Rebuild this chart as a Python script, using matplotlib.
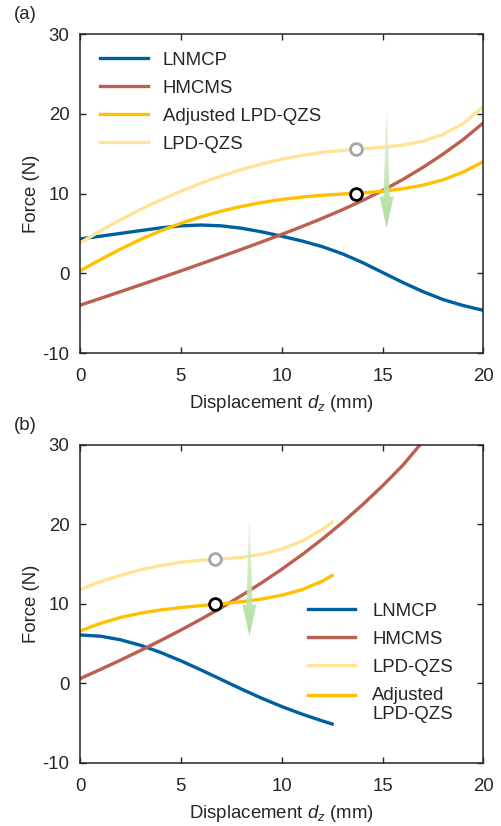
import numpy as np
import matplotlib
matplotlib.use('Agg')
import matplotlib.pyplot as plt
from matplotlib.colors import LinearSegmentedColormap
from matplotlib.patches import Polygon
from matplotlib.legend_handler import HandlerLine2D

plt.rcParams['font.family'] = ['Liberation Sans', 'DejaVu Sans']
plt.rcParams['mathtext.fontset'] = 'custom'
plt.rcParams['mathtext.rm'] = 'Liberation Sans'
plt.rcParams['mathtext.it'] = 'Liberation Sans:italic'
plt.rcParams['axes.unicode_minus'] = False
plt.rcParams['text.color'] = '#262626'
plt.rcParams['axes.labelcolor'] = '#262626'
plt.rcParams['xtick.color'] = '#262626'
plt.rcParams['ytick.color'] = '#262626'
plt.rcParams['lines.solid_joinstyle'] = 'round'

# ---- (a) full stroke, 0-20 mm ----
dz_a = np.arange(0, 21)
lnmcp_a = [4.3, 4.65, 5.0, 5.35, 5.7, 5.95, 6.05, 5.95, 5.65, 5.2, 4.65,
           4.05, 3.35, 2.45, 1.35, 0.1, -1.15, -2.3, -3.3, -4.05, -4.65]
hmcms_a = [-4.0, -3.16, -2.31, -1.45, -0.58, 0.30, 1.19, 2.09, 3.00, 3.93,
           4.88, 5.86, 6.88, 7.96, 9.12, 10.38, 11.76, 13.28, 14.95, 16.78,
           18.88]
adj_a = [0.3, 1.7, 3.02, 4.24, 5.32, 6.27, 7.09, 7.79, 8.38, 8.87, 9.26,
         9.56, 9.78, 9.94, 10.08, 10.28, 10.6, 11.05, 11.72, 12.7, 14.0]
lpd_a = [3.8, 5.3, 6.7, 8.0, 9.2, 10.3, 11.3, 12.2, 13.0, 13.7, 14.3,
         14.8, 15.15, 15.4, 15.6, 15.8, 16.07, 16.57, 17.42, 18.77, 20.9]
eq_dz_a = 13.7
eq_lpd_a, eq_adj_a = 15.6, 10.0
arrow_a = (15.2, 20.1, 5.7)   # x, top, tip

# ---- (b) shortened stroke, 0-12.5 mm ----
dz_b = [0, 1, 2, 3, 4, 5, 6, 7, 8, 9, 10, 11, 12, 12.5]
lnmcp_b = [6.1, 5.95, 5.5, 4.8, 3.9, 2.85, 1.7, 0.5, -0.7, -1.85, -2.9,
           -3.85, -4.7, -5.1]
adj_b = [6.6, 7.55, 8.3, 8.85, 9.25, 9.55, 9.8, 10.02, 10.27, 10.62, 11.1,
         11.8, 12.85, 13.6]
lpd_b = [11.8, 12.8, 13.6, 14.3, 14.85, 15.25, 15.5, 15.65, 15.85, 16.25,
         16.9, 17.9, 19.35, 20.3]
dz_b_hm = [0, 1, 2, 3, 4, 5, 6, 7, 8, 9, 10, 11, 12, 13, 14, 15, 16, 16.85]
hmcms_b = [0.6, 1.75, 2.93, 4.15, 5.41, 6.72, 8.09, 9.53, 11.05, 12.66,
           14.37, 16.19, 18.14, 20.23, 22.47, 24.87, 27.44, 30.0]
eq_dz_b = 6.7
eq_lpd_b, eq_adj_b = 15.6, 10.0
arrow_b = (8.4, 20.3, 6.0)

c_blue = '#005F9E'
c_red = '#BC5F4E'
c_gold = '#FFC000'
c_pale = '#FFE497'
lw = 2.4
fs = 13.4

green_cmap = LinearSegmentedColormap.from_list('g', ['#E6F6DF', '#A6DB90'])


class RaisedLine(HandlerLine2D):
    # puts the handle level with the first line of a two-line label
    def __init__(self, dy, **kw):
        super().__init__(**kw)
        self.dy = dy

    def create_artists(self, legend, orig_handle, xdescent, ydescent,
                       width, height, fontsize, trans):
        return super().create_artists(legend, orig_handle, xdescent,
                                      ydescent - 2 * self.dy, width, height,
                                      fontsize, trans)


def draw_arrow(ax, x, top, tip):
    # tapered shaft + head, shaded light to dark downwards
    head_len = 3.9
    hw, sw = 0.35, 0.15
    base = tip + head_len
    verts = [(x - 0.025, top), (x + 0.025, top), (x + sw, base),
             (x + hw, base), (x, tip), (x - hw, base), (x - sw, base)]
    poly = Polygon(verts, closed=True, facecolor='none', edgecolor='none')
    ax.add_patch(poly)
    grad = np.linspace(0, 1, 256).reshape(-1, 1)
    im = ax.imshow(grad, cmap=green_cmap, extent=(x - hw, x + hw, tip, top),
                   origin='upper', aspect='auto', zorder=6, alpha=0.9)
    im.set_clip_path(poly)


def style_axes(ax):
    ax.set_xlim(0, 20)
    ax.set_ylim(-10, 30)
    ax.set_xticks([0, 5, 10, 15, 20])
    ax.set_yticks([-10, 0, 10, 20, 30])
    ax.tick_params(direction='in', top=True, right=True, length=4.5,
                   width=1.0, labelsize=fs)
    ax.tick_params(axis='x', pad=10.5)
    ax.tick_params(axis='y', pad=7.5)
    for s in ax.spines.values():
        s.set_linewidth(1.1)
        s.set_color('#262626')
    ax.set_xlabel('Displacement $d_z$ (mm)', fontsize=fs, labelpad=6)
    ax.set_ylabel('Force (N)', fontsize=fs, labelpad=2)


fig = plt.figure(figsize=(5.02, 8.26), dpi=100)
ax1 = fig.add_axes([0.1594, 0.5726, 0.8037, 0.3862])
ax2 = fig.add_axes([0.1594, 0.0763, 0.8037, 0.3850])

# panel (a)
ax1.plot(dz_a, lnmcp_a, color=c_blue, lw=lw, label='LNMCP')
ax1.plot(dz_a, hmcms_a, color=c_red, lw=lw, label='HMCMS')
ax1.plot(dz_a, adj_a, color=c_gold, lw=lw, label='Adjusted LPD-QZS')
ax1.plot(dz_a, lpd_a, color=c_pale, lw=lw, label='LPD-QZS')
ax1.plot([eq_dz_a], [eq_lpd_a], 'o', ms=8.5, mfc='white', mec='#A6A6A6',
         mew=2.0, zorder=7)
ax1.plot([eq_dz_a], [eq_adj_a], 'o', ms=8.5, mfc='white', mec='black',
         mew=2.0, zorder=7)
draw_arrow(ax1, *arrow_a)
style_axes(ax1)
ax1.legend(loc='upper left', bbox_to_anchor=(0.049, 0.944), frameon=False,
           fontsize=fs, handlelength=2.58, handletextpad=0.8,
           labelspacing=0.59, borderpad=0, borderaxespad=0)

# panel (b)
l1, = ax2.plot(dz_b, lnmcp_b, color=c_blue, lw=lw, label='LNMCP')
l2, = ax2.plot(dz_b_hm, hmcms_b, color=c_red, lw=lw, label='HMCMS')
l3, = ax2.plot(dz_b, lpd_b, color=c_pale, lw=lw, label='LPD-QZS')
l4, = ax2.plot(dz_b, adj_b, color=c_gold, lw=lw, label='Adjusted\nLPD-QZS')
ax2.plot([eq_dz_b], [eq_lpd_b], 'o', ms=8.5, mfc='white', mec='#A6A6A6',
         mew=2.0, zorder=7)
ax2.plot([eq_dz_b], [eq_adj_b], 'o', ms=8.5, mfc='white', mec='black',
         mew=2.0, zorder=7)
draw_arrow(ax2, *arrow_b)
style_axes(ax2)
ax2.legend(handles=[l1, l2, l3, l4], loc='upper left',
           bbox_to_anchor=(0.565, 0.5045), frameon=False, fontsize=fs,
           handlelength=2.55, handletextpad=0.9, labelspacing=0.59,
           borderpad=0, borderaxespad=0,
           handler_map={l4: RaisedLine(dy=0.55 * fs)})

fig.text(0.05, 0.982, '(a)', fontsize=fs, ha='center', va='center')
fig.text(0.05, 0.4843, '(b)', fontsize=fs, ha='center', va='center')

fig.savefig('out.png', dpi=100)
